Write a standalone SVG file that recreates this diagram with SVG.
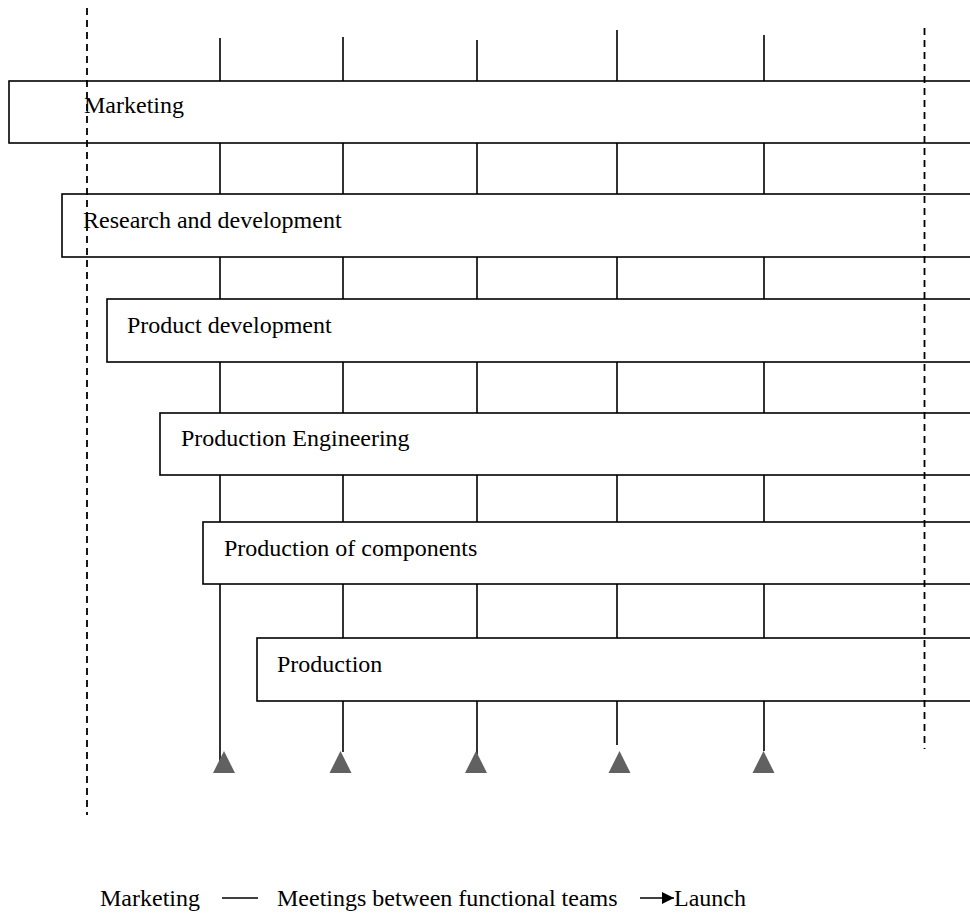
<svg xmlns="http://www.w3.org/2000/svg" width="970" height="917" viewBox="0 0 970 917">
  <defs>
    <style>
      .box { fill: #ffffff; stroke: #000000; stroke-width: 1.6; }
      .lbl { font-family: "Liberation Serif", "Times New Roman", serif; font-size: 24px; fill: #000000; }
      .link { stroke: #000000; stroke-width: 1.6; fill: none; }
      .dash { stroke: #000000; stroke-width: 1.8; stroke-dasharray: 7 5; fill: none; }
      .tri { fill: #616161; }
    </style>
    <marker id="arrowhead" viewBox="0 0 10 10" refX="10" refY="5" markerWidth="13" markerHeight="12" markerUnits="userSpaceOnUse" orient="auto">
      <path d="M0,0 L10,5 L0,10 Z" fill="#000000"/>
    </marker>
  </defs>
  <rect width="970" height="917" fill="#ffffff"/>

  <!-- meeting lines between functional teams -->
  <g id="connectors">
    <path class="link" d="M220,38 V81 M220,143 V194 M220,257 V299 M220,362 V413 M220,475 V522 M220,584 V765"/>
    <path class="link" d="M343,37 V81 M343,143 V194 M343,257 V299 M343,362 V413 M343,475 V522 M343,584 V638 M343,701 V752"/>
    <path class="link" d="M477,40 V81 M477,143 V194 M477,257 V299 M477,362 V413 M477,475 V522 M477,584 V638 M477,701 V755"/>
    <path class="link" d="M617,30 V81 M617,143 V194 M617,257 V299 M617,362 V413 M617,475 V522 M617,584 V638 M617,701 V745"/>
    <path class="link" d="M764,35 V81 M764,143 V194 M764,257 V299 M764,362 V413 M764,475 V522 M764,584 V638 M764,701 V751"/>
  </g>

  <!-- functional teams -->
  <g id="marketing">
    <rect class="box" x="9" y="81" width="1000" height="62"/>
    <text class="lbl" x="84" y="113">Marketing</text>
  </g>
  <g id="research">
    <rect class="box" x="62" y="194" width="1000" height="63"/>
    <text class="lbl" x="83" y="228">Research and development</text>
  </g>
  <g id="product-development">
    <rect class="box" x="107" y="299" width="1000" height="63"/>
    <text class="lbl" x="127" y="333">Product development</text>
  </g>
  <g id="production-engineering">
    <rect class="box" x="160" y="413" width="1000" height="62"/>
    <text class="lbl" x="181" y="446">Production Engineering</text>
  </g>
  <g id="production-components">
    <rect class="box" x="203" y="522" width="1000" height="62"/>
    <text class="lbl" x="224" y="556">Production of components</text>
  </g>
  <g id="production">
    <rect class="box" x="257" y="638" width="1000" height="63"/>
    <text class="lbl" x="277" y="672">Production</text>
  </g>

  <!-- launch markers -->
  <g id="launches">
    <polygon class="tri" points="224,751 235,773 213,773"/>
    <polygon class="tri" points="340.5,751 351.5,773 329.5,773"/>
    <polygon class="tri" points="476,751 487,773 465,773"/>
    <polygon class="tri" points="619.5,751 630.5,773 608.5,773"/>
    <polygon class="tri" points="763.5,751 774.5,773 752.5,773"/>
  </g>

  <!-- time boundaries -->
  <g id="boundaries">
    <line class="dash" x1="87" y1="8" x2="87" y2="815"/>
    <line class="dash" x1="924.5" y1="28" x2="924.5" y2="749"/>
  </g>

  <!-- legend -->
  <g id="legend">
    <text class="lbl" x="100" y="906">Marketing</text>
    <line class="link" x1="222" y1="898" x2="258" y2="898"/>
    <text class="lbl" x="277" y="906">Meetings between functional teams</text>
    <line class="link" x1="640" y1="898" x2="674" y2="898" marker-end="url(#arrowhead)"/>
    <text class="lbl" x="674" y="906">Launch</text>
  </g>
</svg>
